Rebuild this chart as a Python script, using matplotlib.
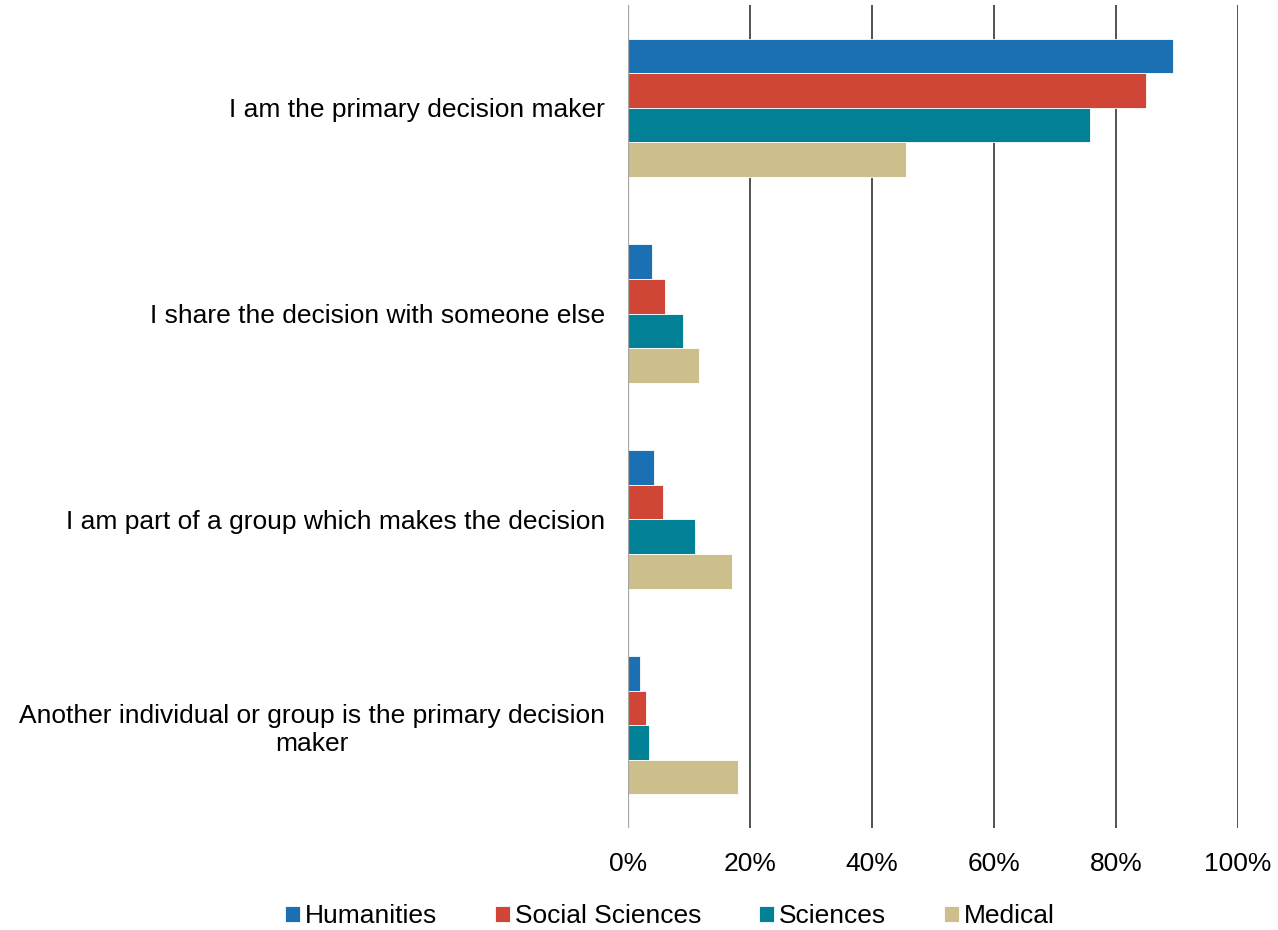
import matplotlib
matplotlib.use("Agg")
import matplotlib.pyplot as plt
import numpy as np

plt.rcParams['font.family'] = ['Liberation Sans', 'DejaVu Sans']

categories = [
    "I am the primary decision maker",
    "I share the decision with someone else",
    "I am part of a group which makes the decision",
    "Another individual or group is the primary decision\nmaker",
]
series_names = ["Humanities", "Social Sciences", "Sciences", "Medical"]
humanities = [89.4, 3.9, 4.2, 1.9]
social_sciences = [84.9, 6.0, 5.7, 3.0]
sciences = [75.7, 9.0, 11.0, 3.4]
medical = [45.6, 11.7, 17.0, 18.0]
colors = ["#1B70B4", "#D04636", "#028096", "#CCBF8C"]
x_ticks = [0, 20, 40, 60, 80, 100]

FS = 19

fig = plt.figure(figsize=(12.78, 9.3), dpi=100)
ax = fig.add_axes([628 / 1278, 1 - 828 / 930, 610 / 1278, 823 / 930])

values = [humanities, social_sciences, sciences, medical]
n_cat = len(categories)
bar_h = 0.168
y = np.arange(n_cat)
for i, (name, vals, c) in enumerate(zip(series_names, values, colors)):
    offs = (i - 1.5) * bar_h
    ax.barh(y + offs, vals, height=bar_h, color=c, label=name,
            edgecolor="white", linewidth=0.6, zorder=3)

ax.set_ylim(n_cat - 0.5, -0.5)
ax.set_xlim(0, 100)
ax.set_xticks(x_ticks)
ax.set_xticklabels([f"{t}%" for t in x_ticks], fontsize=FS)
ax.set_yticks(y)
ax.set_yticklabels(categories, fontsize=FS, multialignment="center",
                   linespacing=1.25)
ax.tick_params(axis="both", length=0, colors="#000000")
ax.tick_params(axis="y", pad=16.5)
ax.tick_params(axis="x", pad=17)

for t in x_ticks[1:]:
    ax.axvline(t, color="#444444", linewidth=1.3, zorder=1)
ax.axvline(0, color="#A6A6A6", linewidth=1.6, zorder=4)

for s in ax.spines.values():
    s.set_visible(False)

ax.legend(loc="center", bbox_to_anchor=(670 / 1278, 1 - 916 / 930),
          bbox_transform=fig.transFigure, ncol=4, frameon=False,
          fontsize=FS, handlelength=0.55, handleheight=0.55,
          handletextpad=0.2, columnspacing=2.2)

fig.savefig("out.png", dpi=100)
